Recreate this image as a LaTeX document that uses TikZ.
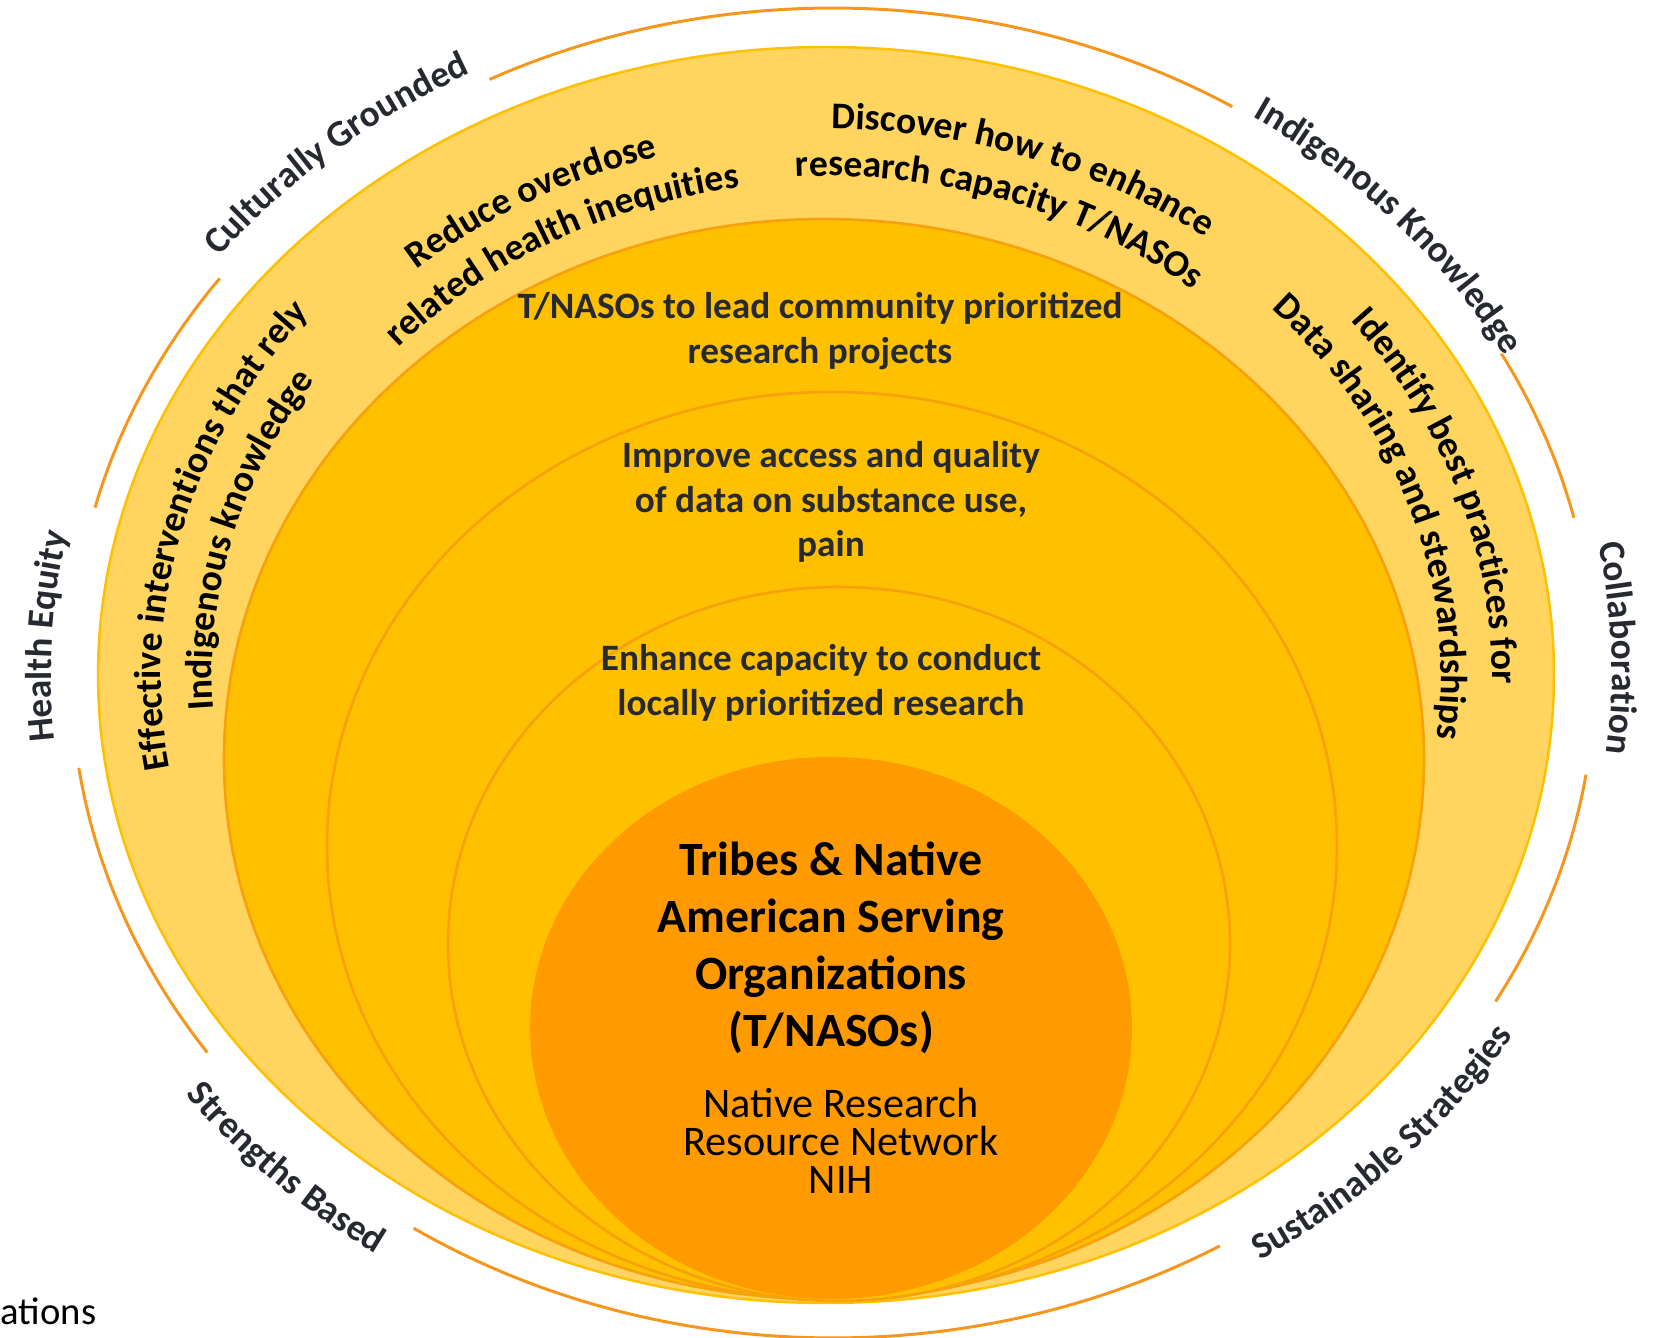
\documentclass[tikz,border=0pt]{standalone}
\usepackage{fontspec}
\setmainfont{Carlito}
\usepackage{tikz}
\usetikzlibrary{calc, decorations.text}
\definecolor{mylight}{HTML}{FFD45F}
\definecolor{mygold}{HTML}{FFC000}
\definecolor{myorange}{HTML}{FF9A00}
\definecolor{myline}{HTML}{F7A10D}
\definecolor{myring}{HTML}{F7961C}
\definecolor{mygray}{HTML}{262A30}
\newcommand{\centrefont}{\fontsize{10.6}{12.6}\selectfont\bfseries}
\newcommand{\corefont}{\fontsize{13.6}{16.2}\selectfont\bfseries}
\newcommand{\subfont}{\fontsize{12}{10.9}\selectfont}
\newcommand{\bandfont}{\fontsize{10.7}{12.6}\selectfont\bfseries}
\newcommand{\ringfont}{\fontsize{10.6}{13}\selectfont\bfseries}
\newcommand{\curvetext}[7]{%
  \path[decorate, decoration={text along path, text align=center, text color=#7, text={#6}}]
    ($(#1)+(#4:#2 and #3)$) arc[start angle=#4, end angle=#5, x radius=#2, y radius=#3];}
\tikzset{
  band/.style={draw=myline, line width=0.75pt},
  ring/.style={draw=myring, line width=0.85pt},
  centretext/.style={align=center, text=mygray, font=\centrefont, inner sep=0pt},
}

\begin{document}
\begin{tikzpicture}[x=0.1mm, y=0.1mm]
\useasboundingbox (0,0) rectangle (1654,1337);
\coordinate (c1) at (826,662);
\coordinate (c2) at (824,578);
\coordinate (c3) at (832,491);
\coordinate (c4) at (839,393);
\coordinate (c5) at (831,309);
\coordinate (t) at (833,664);

\draw[fill=mylight, draw=mygold, line width=0.7pt] (c1) ellipse [x radius=728, y radius=628];
\draw[band, fill=mygold] (c2) ellipse [x radius=600, y radius=540];
\draw[band, fill=mygold] (c3) ellipse [x radius=505, y radius=454];
\draw[band, fill=mygold] (c4) ellipse [x radius=391, y radius=357];
\fill[myorange] (c5) ellipse [x radius=301, y radius=271];

\draw[ring] ($(t)+(58.4:762 and 665)$) arc[start angle=58.4, end angle=116.8, x radius=762, y radius=665];
\draw[ring] ($(t)+(143.6:762 and 665)$) arc[start angle=143.6, end angle=165.6, x radius=762, y radius=665];
\draw[ring] ($(t)+(188.2:762 and 665)$) arc[start angle=188.2, end angle=214.8, x radius=762, y radius=665];
\draw[ring] ($(t)+(236.6:762 and 665)$) arc[start angle=236.6, end angle=300.5, x radius=762, y radius=665];
\draw[ring] ($(t)+(13.5:762 and 665)$) arc[start angle=13.5, end angle=28.7, x radius=762, y radius=665];
\draw[ring] ($(t)+(-29.6:762 and 665)$) arc[start angle=-29.6, end angle=-8.8, x radius=762, y radius=665];

\curvetext{t}{777}{678}{156}{105}{|\ringfont|Culturally Grounded}{mygray}
\curvetext{t}{763}{666}{68}{16}{|\ringfont|Indigenous Knowledge}{mygray}
\curvetext{t}{782}{682}{199.5}{154.5}{|\ringfont|Health Equity}{mygray}
\curvetext{t}{779}{680}{25}{-21}{|\ringfont|Collaboration}{mygray}
\curvetext{t}{808}{705}{199.5}{251.5}{|\ringfont|Strengths Based}{mygray}
\curvetext{t}{797}{696}{291}{341}{|\ringfont|Sustainable Strategies}{mygray}

\curvetext{c1}{624}{538}{149}{89}{|\bandfont|Reduce overdose}{black}
\curvetext{c1}{571}{493}{149}{89}{|\bandfont|related health inequities}{black}
\curvetext{c1}{633}{546}{101}{41}{|\bandfont|Discover how to enhance}{black}
\curvetext{c1}{578}{499}{101.5}{41.5}{|\bandfont|research capacity T/NASOs}{black}
\curvetext{c1}{665}{574}{200}{131}{|\bandfont|Effective interventions that rely}{black}
\curvetext{c1}{614}{530}{200}{131}{|\bandfont|Indigenous knowledge}{black}
\curvetext{c1}{666}{575}{53}{-17}{|\bandfont|Identify best practices for}{black}
\curvetext{c1}{615}{531}{53}{-17}{|\bandfont|Data sharing and stewardships}{black}

\node[centretext] (lead) at (820,1006) {T/NASOs to lead community prioritized\\research projects};
\node[centretext] (improve) at (831,835) {Improve access and quality\\of data on substance use,\\pain};
\node[centretext] (enhance) at (821,654) {Enhance capacity to conduct\\locally prioritized research};
\node[align=center, font=\corefont, inner sep=0pt] (tribes) at (831,389) {Tribes \& Native\\American Serving\\Organizations\\(T/NASOs)};
\node[align=center, font=\subfont, inner sep=0pt] (nrrn) at (841,196) {Native Research\\Resource Network\\NIH};
\node[anchor=west, font=\fontsize{11}{13}\selectfont, inner sep=0pt] (ations) at (0,26) {ations};
\end{tikzpicture}
\end{document}
